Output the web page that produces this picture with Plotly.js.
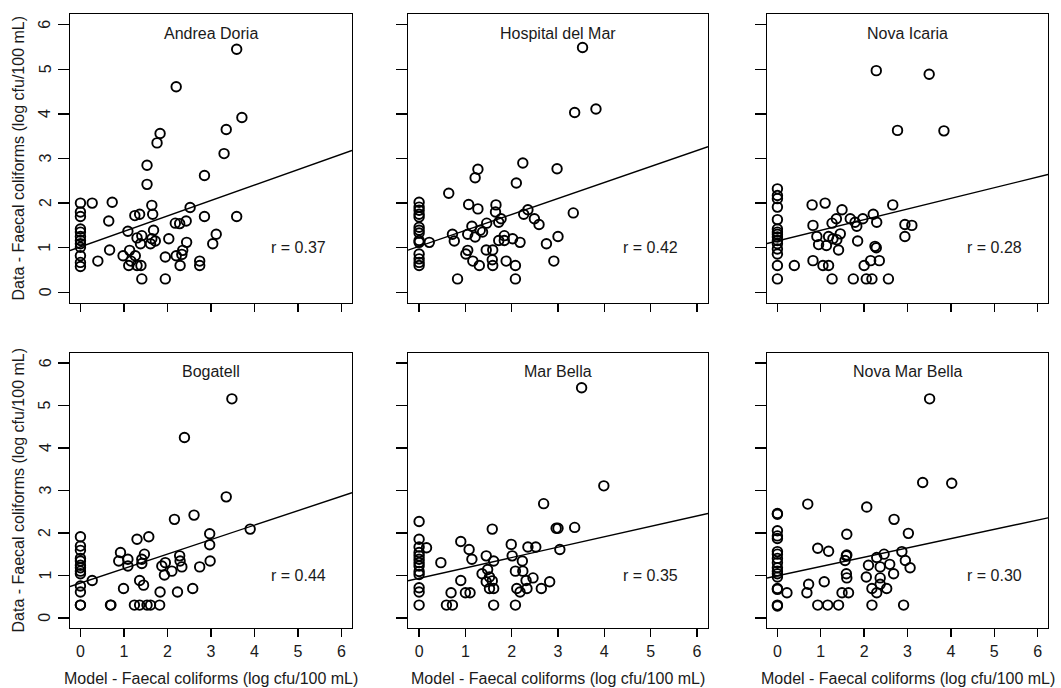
<!DOCTYPE html>
<html>
<head>
<meta charset="utf-8">
<script src="https://cdn.plot.ly/plotly-3.0.1.min.js"></script>
<style>
  html, body { margin: 0; padding: 0; background: #ffffff; }
  #chart { width: 1061px; height: 688px; }
</style>
</head>
<body>
<div id="chart"></div>
<script>
// ---- Data ----
const siteNames = ["Andrea Doria", "Hospital del Mar", "Nova Icaria", "Bogatell", "Mar Bella", "Nova Mar Bella"];
const rLabels = ["r = 0.37", "r = 0.42", "r = 0.28", "r = 0.44", "r = 0.35", "r = 0.30"];
const fitIntercepts = [1.02, 1.03, 1.15, 0.82, 0.93, 0.99];
const fitSlopes = [0.346, 0.358, 0.239, 0.341, 0.245, 0.219];
const tickValues = [0, 1, 2, 3, 4, 5, 6];
const tickLabels = ["0", "1", "2", "3", "4", "5", "6"];
const xAxisTitle = "Model - Faecal coliforms (log cfu/100 mL)";
const yAxisTitle = "Data - Faecal coliforms (log cfu/100 mL)";

const andreaDoriaModel = [0,0,0,0,0,0,0,0,0,0,0,0,
  0.27,0.73,0.65,0.67,0.40,0.98,1.09,1.13,1.11,1.16,1.26,1.25,1.36,1.30,1.41,1.38,1.30,1.39,1.41,
  1.53,1.53,1.64,1.66,1.68,1.61,1.64,1.72,1.76,1.83,2.03,1.95,1.95,2.20,2.18,2.28,2.43,2.52,2.44,
  2.35,2.20,2.33,2.29,2.74,2.74,2.85,2.85,3.12,3.04,3.30,3.35,3.59,3.59,3.71];
const andreaDoriaData = [2.0,1.8,1.7,1.42,1.35,1.25,1.16,1.09,1.01,0.82,0.67,0.58,
  2.0,2.02,1.6,0.95,0.70,0.82,1.37,0.94,0.60,0.70,0.82,1.72,1.75,1.22,1.27,1.09,0.60,0.60,0.30,
  2.85,2.42,1.95,1.75,1.39,1.09,1.20,1.15,3.35,3.56,1.20,0.79,0.30,4.61,1.55,1.54,1.60,1.90,1.12,
  0.94,0.82,0.85,0.60,0.70,0.60,2.62,1.70,1.30,1.09,3.11,3.65,5.45,1.70,3.92];

const hospitalModel = [0,0,0,0,0,0,0,0,0,0,0,0,0,0,
  0.22,0.64,0.72,0.76,0.83,1.01,1.05,1.16,1.07,1.05,1.14,1.21,1.27,1.27,1.21,1.30,1.32,1.37,1.46,
  1.45,1.59,1.58,1.59,1.66,1.65,1.72,1.77,1.72,1.84,1.84,1.88,2.02,2.10,2.08,2.08,2.18,2.24,2.26,
  2.35,2.49,2.59,2.75,2.91,2.98,3.00,3.33,3.36,3.53,3.82];
const hospitalData = [2.02,1.91,1.84,1.75,1.69,1.46,1.39,1.33,1.16,1.12,0.86,0.75,0.67,0.60,
  1.12,2.22,1.30,1.15,0.30,0.86,0.94,0.70,1.97,1.30,1.48,2.57,2.76,1.87,1.24,0.60,1.39,1.35,1.55,
  0.95,0.95,0.73,0.60,1.96,1.80,1.57,1.65,1.16,1.27,1.16,0.70,1.20,2.45,0.60,0.30,1.12,2.90,1.75,
  1.85,1.65,1.52,1.09,0.70,2.77,1.25,1.78,4.03,5.49,4.11];

const novaIcariaModel = [0,0,0,0,0,0,0,0,0,0,0,0,0,0,0,
  0.39,0.80,0.82,0.82,0.91,0.95,1.05,1.18,1.10,1.13,1.18,1.26,1.26,1.28,1.36,1.37,1.41,1.45,1.49,
  1.68,1.75,1.79,1.83,1.85,1.97,2.00,2.05,2.18,2.15,2.21,2.25,2.28,2.28,2.29,2.35,2.56,2.66,2.77,
  2.94,2.94,3.10,3.50,3.84];
const novaIcariaData = [2.32,2.17,2.10,1.91,1.63,1.42,1.35,1.30,1.24,1.16,1.09,0.97,0.86,0.60,0.30,
  0.60,1.96,1.50,0.71,1.25,1.07,0.60,0.60,2.00,1.05,1.25,1.55,0.30,1.20,1.65,1.18,0.95,1.31,1.85,
  1.65,0.30,1.57,1.48,1.15,1.65,0.60,0.30,0.30,0.71,1.75,1.03,1.00,4.97,1.57,0.71,0.30,1.96,3.63,
  1.25,1.52,1.50,4.89,3.62];

const bogatellModel = [0,0,0,0,0,0,0,0,0,0,0,0,0,
  0.27,0.69,0.70,0.92,0.88,0.99,1.09,1.09,1.30,1.24,1.36,1.36,1.41,1.41,1.47,1.45,1.53,1.57,1.61,
  1.82,1.83,1.87,1.95,1.93,2.10,2.16,2.23,2.28,2.29,2.33,2.39,2.58,2.61,2.74,2.97,2.97,2.98,3.35,
  3.48,3.90];
const bogatellData = [1.91,1.69,1.59,1.40,1.34,1.24,1.18,1.10,1.04,0.75,0.61,0.30,0.30,
  0.88,0.30,0.30,1.54,1.34,0.69,1.38,1.22,1.85,0.30,0.30,0.88,1.38,1.28,1.50,0.77,0.30,1.91,0.30,
  0.30,0.61,1.22,1.30,1.01,1.10,2.32,0.61,1.46,1.34,1.20,4.25,0.69,2.42,1.20,1.98,1.72,1.34,2.85,
  5.16,2.09];

const marBellaModel = [0,0,0,0,0,0,0,0,0,0,0,0,0,
  0.16,0.47,0.59,0.72,0.69,0.90,0.90,1.00,1.10,1.08,1.14,1.36,1.45,1.48,1.45,1.52,1.52,1.58,1.61,
  1.58,1.61,1.61,1.99,2.01,2.08,2.08,2.11,2.18,2.23,2.24,2.31,2.33,2.35,2.46,2.52,2.64,2.69,2.82,
  2.96,3.00,3.04,3.36,3.51,3.99];
const marBellaData = [2.27,1.85,1.67,1.54,1.46,1.38,1.30,1.22,1.09,1.02,0.71,0.61,0.30,
  1.65,1.30,0.30,0.30,0.59,0.88,1.80,0.59,0.59,1.61,1.38,1.04,1.46,1.14,0.85,0.96,0.69,0.87,0.69,
  2.09,1.34,0.30,1.73,1.46,1.10,0.30,0.69,0.61,1.34,1.10,0.88,0.69,1.67,0.94,1.67,0.69,2.69,0.85,
  2.11,2.11,1.61,2.13,5.42,3.11];

const novaMarBellaModel = [0,0,0,0,0,0,0,0,0,0,0,0,0,0,0,0,0,
  0.22,0.70,0.72,0.68,0.93,0.93,1.08,1.16,1.18,1.41,1.49,1.56,1.59,1.60,1.60,1.59,1.60,1.64,2.06,
  2.05,2.10,2.18,2.18,2.29,2.29,2.37,2.37,2.37,2.46,2.52,2.59,2.68,2.69,2.87,2.91,2.95,3.02,3.06,
  3.35,3.51,4.02];
const novaMarBellaData = [2.46,2.44,2.05,1.93,1.87,1.56,1.50,1.40,1.30,1.18,1.10,1.04,0.96,0.69,0.67,0.30,0.28,
  0.59,2.68,0.79,0.59,1.64,0.30,0.85,0.30,1.57,0.30,0.59,1.35,1.46,1.48,1.97,1.04,0.94,0.59,2.61,
  0.96,1.24,0.30,0.69,1.42,0.59,1.20,0.94,0.79,1.50,0.69,1.26,1.04,2.32,1.56,0.30,1.35,1.99,1.18,
  3.19,5.16,3.17];

const modelSeries = [andreaDoriaModel, hospitalModel, novaIcariaModel, bogatellModel, marBellaModel, novaMarBellaModel];
const dataSeries = [andreaDoriaData, hospitalData, novaIcariaData, bogatellData, marBellaData, novaMarBellaData];

// ---- Layout geometry ----
const W = 1061, H = 688;
const colPx = [[70, 352], [408, 708], [767, 1048]];
const rowPx = [[14, 303], [353, 628]];
const axisRange = [-0.24, 6.24];
const fontFamily = "Liberation Sans, Arial, sans-serif";
const textColor = "#1a1a1a";

const traces = [];
const layout = {
  width: W, height: H,
  margin: {l: 0, r: 0, t: 0, b: 0},
  paper_bgcolor: "#ffffff",
  plot_bgcolor: "#ffffff",
  showlegend: false,
  font: {family: fontFamily, size: 16, color: textColor},
  annotations: []
};

for (let i = 0; i < 6; i++) {
  const row = Math.floor(i / 3), col = i % 3;
  const n = i + 1;
  const xa = "x" + (n === 1 ? "" : n), ya = "y" + (n === 1 ? "" : n);
  const xKey = "xaxis" + (n === 1 ? "" : n), yKey = "yaxis" + (n === 1 ? "" : n);

  traces.push({
    type: "scatter", mode: "markers",
    x: modelSeries[i], y: dataSeries[i],
    xaxis: xa, yaxis: ya,
    marker: {symbol: "circle-open", size: 9.5, color: "#000000", line: {width: 1.9, color: "#000000"}},
    hoverinfo: "x+y"
  });
  const a = fitIntercepts[i], b = fitSlopes[i];
  traces.push({
    type: "scatter", mode: "lines",
    x: [axisRange[0], axisRange[1]],
    y: [a + b * axisRange[0], a + b * axisRange[1]],
    xaxis: xa, yaxis: ya,
    line: {color: "#000000", width: 1.4},
    hoverinfo: "skip"
  });

  const common = {
    range: axisRange, autorange: false, fixedrange: true,
    showgrid: false, zeroline: false,
    showline: true, mirror: true, linecolor: "#000000", linewidth: 1.4,
    ticks: "outside", tickcolor: "#000000", tickwidth: 1.4,
    tickmode: "array", tickvals: tickValues, ticktext: tickLabels,
    tickfont: {family: fontFamily, size: 16, color: textColor}
  };
  layout[xKey] = Object.assign({}, common, {
    domain: [colPx[col][0] / W, colPx[col][1] / W],
    anchor: ya, ticklen: 8,
    showticklabels: row === 1
  });
  layout[yKey] = Object.assign({}, common, {
    domain: [1 - rowPx[row][1] / H, 1 - rowPx[row][0] / H],
    anchor: xa, ticklen: 11,
    showticklabels: false
  });

  // rotated y tick labels (parallel to the axis), left column only
  if (col === 0) {
    tickValues.forEach((v, k) => {
      layout.annotations.push({
        xref: "paper", yref: ya, x: 45 / W, y: v, text: tickLabels[k], showarrow: false,
        textangle: -90, xanchor: "center", yanchor: "middle",
        font: {family: fontFamily, size: 16, color: textColor}
      });
    });
  }

  layout.annotations.push({
    xref: xa, yref: ya, x: 3, y: 5.8, text: siteNames[i], showarrow: false,
    xanchor: "center", yanchor: "middle", font: {family: fontFamily, size: 16, color: textColor}
  });
  layout.annotations.push({
    xref: xa, yref: ya, x: 5, y: 1.0, text: rLabels[i], showarrow: false,
    xanchor: "center", yanchor: "middle", font: {family: fontFamily, size: 16, color: textColor}
  });

  if (row === 1) {
    layout.annotations.push({
      xref: "paper", yref: "paper",
      x: (colPx[col][0] + colPx[col][1]) / 2 / W, y: 1 - 678 / H,
      text: xAxisTitle, showarrow: false, xanchor: "center", yanchor: "middle",
      font: {family: fontFamily, size: 16, color: textColor}
    });
  }
  if (col === 0) {
    layout.annotations.push({
      xref: "paper", yref: "paper",
      x: 18 / W, y: 1 - (rowPx[row][0] + rowPx[row][1]) / 2 / H,
      text: yAxisTitle, showarrow: false, textangle: -90,
      xanchor: "center", yanchor: "middle",
      font: {family: fontFamily, size: 16, color: textColor}
    });
  }
}

Plotly.newPlot("chart", traces, layout, {displayModeBar: false, staticPlot: true});
</script>
</body>
</html>
